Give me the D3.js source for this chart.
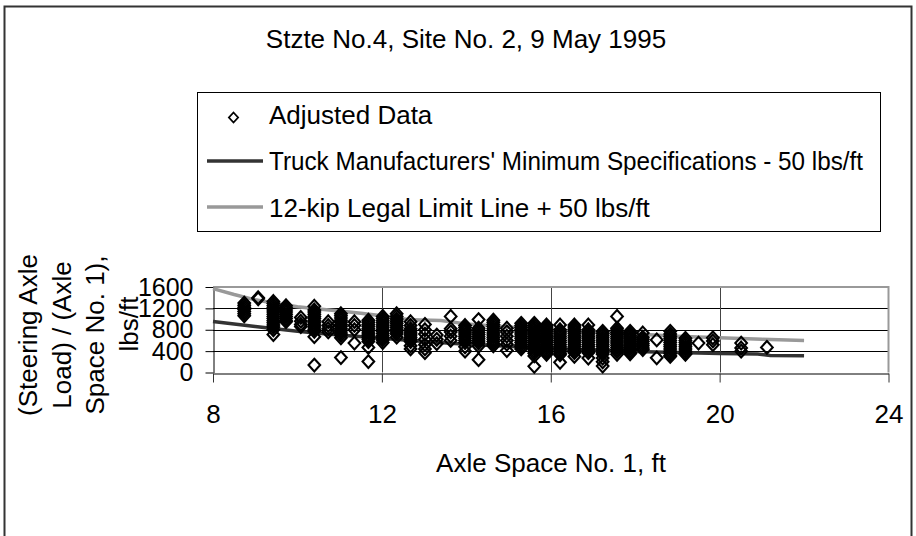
<!DOCTYPE html>
<html>
<head>
<meta charset="utf-8">
<script src="https://cdn.jsdelivr.net/npm/d3@7"></script>
<style>
  body { margin: 0; background: #fff; }
  text { font-family: "Liberation Sans", Arial, sans-serif; fill: #000; }
</style>
</head>
<body>
<div id="chart"></div>
<script>
// axis ticks
var xTicks = [8, 12, 16, 20, 24];
var yTicks = [0, 400, 800, 1200, 1600];

// adjusted data: one column of loads (lbs/ft) per axle spacing (ft)
var spacingCols = [8.74, 9.07, 9.43, 9.73, 10.08, 10.4, 10.73, 11.03, 11.35, 11.68,
  12.02, 12.35, 12.68, 13.02, 13.3, 13.63, 13.97, 14.29, 14.64, 14.96,
  15.3, 15.61, 15.9, 16.22, 16.56, 16.89, 17.23, 17.57, 17.88, 18.18,
  18.51, 18.83, 19.19, 19.5, 19.84, 20.51, 21.12];
var loadCols = [
  [1300, 1260, 1220, 1180, 1140, 1100, 1060],
  [1400, 1380],
  [1330, 1290, 1250, 1210, 1170, 1130, 1090, 1050, 1010, 970, 930, 890, 850, 800, 710],
  [1250, 1210, 1170, 1130, 1090, 1050, 1010, 970, 950],
  [1030, 960, 900, 860],
  [1240, 1170, 1130, 1090, 1050, 1010, 970, 930, 890, 850, 810, 770, 670, 140],
  [950, 880, 820, 760],
  [1100, 1060, 1020, 980, 940, 900, 860, 820, 780, 740, 700, 650, 280],
  [950, 880, 800, 550],
  [980, 940, 900, 860, 820, 780, 740, 700, 660, 620, 580, 470, 205],
  [1050, 1010, 970, 930, 890, 850, 810, 770, 730, 690, 650, 610, 560],
  [1100, 1050, 1000, 960, 920, 880, 840, 800, 760, 720, 660],
  [950, 880, 820, 780, 740, 700, 660, 620, 580, 500, 440],
  [900, 800, 720, 620, 520, 440, 370],
  [700, 620, 540],
  [1050, 820, 760, 680, 600],
  [880, 840, 800, 760, 720, 680, 640, 600, 560, 480, 400],
  [990, 830, 790, 750, 710, 670, 630, 590, 550, 490, 240],
  [980, 940, 900, 860, 820, 780, 740, 700, 660, 620, 580, 540, 500],
  [830, 760, 680, 600, 530, 410],
  [920, 880, 840, 800, 760, 720, 680, 640, 600, 560, 520, 480, 440],
  [920, 880, 840, 800, 760, 720, 680, 640, 600, 560, 520, 480, 440, 400, 360, 310, 115],
  [890, 850, 810, 770, 730, 690, 650, 610, 570, 530, 490, 450, 410, 370, 340],
  [890, 800, 760, 720, 680, 640, 600, 560, 520, 480, 440, 400, 360, 330, 190],
  [890, 850, 810, 770, 730, 690, 650, 610, 570, 530, 490, 450, 410, 370, 300],
  [890, 800, 760, 720, 680, 640, 600, 560, 520, 480, 440, 400, 370, 270],
  [770, 730, 690, 650, 610, 570, 530, 490, 450, 410, 370, 340, 270, 200, 120],
  [1050, 830, 790, 750, 710, 670, 630, 590, 550, 510, 470, 430, 390, 340],
  [770, 730, 690, 650, 610, 570, 530, 490, 450, 410, 370, 350],
  [740, 660, 620, 580, 540, 500, 460, 430],
  [610, 275],
  [770, 720, 680, 640, 600, 560, 520, 480, 440, 400, 360, 320, 300],
  [640, 600, 560, 520, 480, 440, 400, 360, 340],
  [550],
  [650, 590, 520],
  [550, 460, 400],
  [470]
];

// Truck Manufacturers' Minimum Specifications - 50 lbs/ft
var specLine = [[8, 955], [9, 860], [10, 770], [10.5, 735], [11, 700], [12, 640], [13, 580],
  [14, 530], [15, 490], [16, 450], [17, 420], [18, 395], [19, 372], [20, 355],
  [20.9, 345], [21.2, 320], [22, 315]];
// 12-kip Legal Limit Line + 50 lbs/ft
var legalLine = [[8, 1570], [8.5, 1460], [9, 1360], [9.5, 1290], [10, 1230], [10.5, 1190],
  [11, 1150], [11.5, 1110], [12, 1060], [12.7, 985], [13.4, 975], [14, 910], [15, 850],
  [16, 800], [17, 760], [18, 720], [19, 680], [20, 650], [21, 620], [22, 600]];

var W = 916, H = 536;
var svg = d3.select("#chart").append("svg")
  .attr("width", W).attr("height", H);

// outer chart frame
svg.append("rect")
  .attr("x", 4.5).attr("y", 6.5).attr("width", 907).attr("height", 540)
  .attr("fill", "none").attr("stroke", "#333").attr("stroke-width", 2);

// title
svg.append("text")
  .attr("x", 466).attr("y", 48)
  .attr("text-anchor", "middle")
  .style("font-size", "26px")
  .text("Stzte No.4, Site No. 2, 9 May 1995");

var x = d3.scaleLinear().domain([8, 24]).range([213, 888.5]);
var y = d3.scaleLinear().domain([0, 1600]).range([372.5, 287]);

// horizontal gridlines
svg.append("g").selectAll("line")
  .data(yTicks.slice(1, 4))
  .enter().append("line")
    .attr("x1", x(8)).attr("x2", x(24))
    .attr("y1", function(d) { return Math.round(y(d)) + 0.5; })
    .attr("y2", function(d) { return Math.round(y(d)) + 0.5; })
    .attr("stroke", "#000");

// vertical gridlines
svg.append("g").selectAll("line")
  .data(xTicks.slice(1, 4))
  .enter().append("line")
    .attr("x1", function(d) { return Math.round(x(d)) + 0.5; })
    .attr("x2", function(d) { return Math.round(x(d)) + 0.5; })
    .attr("y1", y(1600)).attr("y2", y(0))
    .attr("stroke", "#444");

// plot area border (top and right)
svg.append("path")
  .attr("d", "M" + x(8) + "," + y(1600) + "H" + x(24) + "V" + y(0))
  .attr("fill", "none").attr("stroke", "#999").attr("stroke-width", 2);

// x axis
var xAxis = svg.append("g")
  .attr("transform", "translate(0," + (Math.round(y(0)) + 0.5) + ")")
  .call(d3.axisBottom(x).tickValues(xTicks).tickSize(9).tickSizeOuter(0).tickPadding(22));
xAxis.select(".domain").attr("stroke", "#000");
xAxis.selectAll(".tick line").attr("stroke", "#333");
xAxis.selectAll("text").style("font-size", "26px").attr("fill", "#000");

// y axis
var yAxis = svg.append("g")
  .attr("transform", "translate(" + (Math.round(x(8)) + 0.5) + ",0)")
  .call(d3.axisLeft(y).tickValues(yTicks).tickFormat(d3.format("d"))
    .tickSize(8).tickSizeOuter(0).tickPadding(12));
yAxis.select(".domain").attr("stroke", "#000");
yAxis.selectAll(".tick line").attr("stroke", "#000");
yAxis.selectAll("text").style("font-size", "25px").attr("fill", "#000");

// axis titles
svg.append("text")
  .attr("x", 551).attr("y", 472)
  .attr("text-anchor", "middle")
  .style("font-size", "26px")
  .text("Axle Space No. 1, ft");

var yTitle = ["(Steering Axle", "Load) / (Axle", "Space No. 1),", "lbs/ft"];
svg.append("g").selectAll("text")
  .data(yTitle)
  .enter().append("text")
    .attr("transform", function(d, i) {
      return "translate(" + (37 + i * 33.5) + "," + (i == 3 ? 324 : 335) + ") rotate(-90)";
    })
    .attr("text-anchor", "middle")
    .style("font-size", "26px")
    .text(function(d) { return d; });

// lines
var line = d3.line()
  .x(function(d) { return x(d[0]); })
  .y(function(d) { return y(d[1]); });

svg.append("path").datum(legalLine)
  .attr("d", line).attr("fill", "none")
  .attr("stroke", "#999").attr("stroke-width", 3.5);
svg.append("path").datum(specLine)
  .attr("d", line).attr("fill", "none")
  .attr("stroke", "#333").attr("stroke-width", 3.5);

// diamond marker
var diamond = {
  draw: function(ctx, size) {
    var h = Math.sqrt(size) / 2, w = h * 0.92;
    ctx.moveTo(0, -h); ctx.lineTo(w, 0); ctx.lineTo(0, h); ctx.lineTo(-w, 0); ctx.closePath();
  }
};

var points = [];
spacingCols.forEach(function(s, i) {
  loadCols[i].forEach(function(v) { points.push({s: s, v: v}); });
});

svg.append("g").selectAll("path")
  .data(points)
  .enter().append("path")
    .attr("transform", function(d) { return "translate(" + x(d.s) + "," + y(d.v) + ")"; })
    .attr("d", d3.symbol().type(diamond).size(160))
    .attr("fill", "none")
    .attr("stroke", "#000")
    .attr("stroke-width", 2.1);

// legend
var lg = svg.append("g");
lg.append("rect")
  .attr("x", 197.5).attr("y", 92.5).attr("width", 683).attr("height", 139)
  .attr("fill", "#fff").attr("stroke", "#000");

lg.append("path")
  .attr("transform", "translate(233.5,117.5)")
  .attr("d", d3.symbol().type(diamond).size(100))
  .attr("fill", "none").attr("stroke", "#000").attr("stroke-width", 1.8);

lg.append("line").attr("x1", 207).attr("x2", 263).attr("y1", 161).attr("y2", 161)
  .attr("stroke", "#333").attr("stroke-width", 3.5);
lg.append("line").attr("x1", 207).attr("x2", 263).attr("y1", 207).attr("y2", 207)
  .attr("stroke", "#999").attr("stroke-width", 3.5);

var legendText = ["Adjusted Data",
  "Truck Manufacturers' Minimum Specifications - 50 lbs/ft",
  "12-kip Legal Limit Line + 50 lbs/ft"];
lg.selectAll("text.lt")
  .data(legendText)
  .enter().append("text")
    .attr("class", "lt")
    .attr("x", 269)
    .attr("y", function(d, i) { return 124 + i * 46.3; })
    .style("font-size", "26px")
    .text(function(d) { return d; });
// the long entry is set tighter in the reference
lg.selectAll("text.lt").filter(function(d, i) { return i == 1; })
  .attr("textLength", 594).attr("lengthAdjust", "spacingAndGlyphs");
</script>
</body>
</html>
